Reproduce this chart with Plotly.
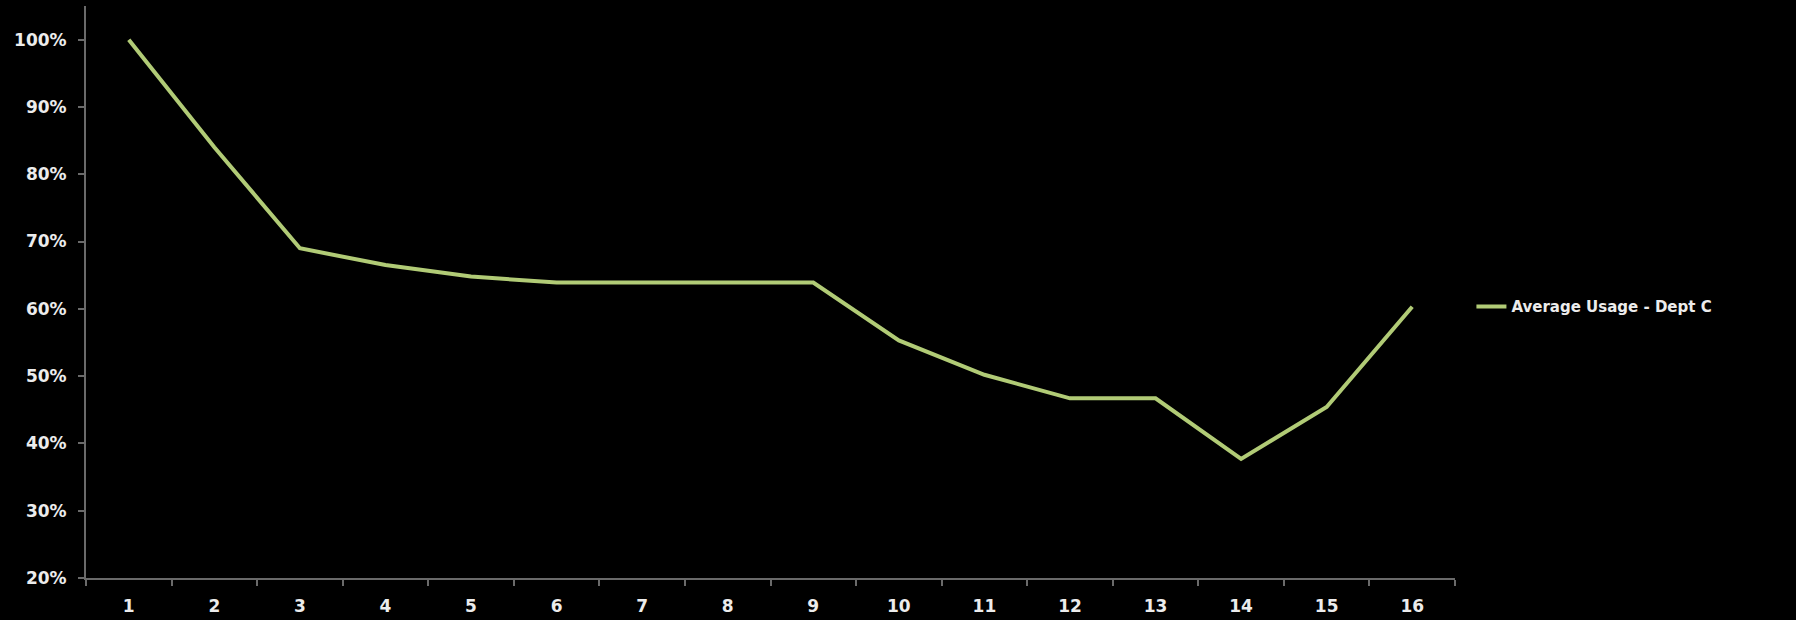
import plotly.graph_objects as go

# Period labels along the x axis
periods = [str(i) for i in range(1, 17)]

# Average usage per period (fraction of capacity)
avg_usage_dept_c = [1.00, 0.84, 0.69, 0.665, 0.648, 0.639, 0.639, 0.639, 0.639,
                    0.553, 0.502, 0.467, 0.467, 0.377, 0.454, 0.603]

series_name = "Average Usage - Dept C"

LINE_COLOR = "#b1cb76"
AXIS_COLOR = "#6a6a6a"
TEXT_COLOR = "#ececec"
FONT = "DejaVu Sans"

fig = go.Figure()
fig.add_trace(go.Scatter(
    x=periods,
    y=avg_usage_dept_c,
    mode="lines",
    name=series_name,
    line=dict(color=LINE_COLOR, width=4),
    showlegend=True,
))

fig.update_layout(
    width=1796,
    height=620,
    paper_bgcolor="#000000",
    plot_bgcolor="#000000",
    margin=dict(l=86, r=341, t=6, b=42),
    font=dict(family=FONT, color=TEXT_COLOR, size=15, weight="bold"),
    showlegend=True,
    legend=dict(
        x=1.012, y=0.474, xanchor="left", yanchor="middle",
        bgcolor="rgba(0,0,0,0)",
        font=dict(family=FONT, size=15, color=TEXT_COLOR, weight="bold"),
        itemwidth=30,
    ),
    xaxis=dict(
        type="category",
        range=[-0.5, 15.5],
        tickson="boundaries",
        ticks="outside",
        ticklen=6,
        tickcolor=AXIS_COLOR,
        tickwidth=1.5,
        showline=True,
        linecolor=AXIS_COLOR,
        linewidth=2,
        showgrid=False,
        zeroline=False,
        automargin=False,
        tickfont=dict(family=FONT, size=17, color=TEXT_COLOR, weight="bold"),
        ticklabelstandoff=12,
    ),
    yaxis=dict(
        range=[0.2, 1.05],
        tick0=0.2,
        dtick=0.1,
        tickformat=".0%",
        ticks="outside",
        ticklen=6,
        tickcolor=AXIS_COLOR,
        tickwidth=1.5,
        showline=True,
        linecolor=AXIS_COLOR,
        linewidth=2,
        showgrid=False,
        zeroline=False,
        automargin=False,
        tickfont=dict(family=FONT, size=17, color=TEXT_COLOR, weight="bold"),
        ticklabelstandoff=8,
    ),
)

fig.write_html("out.html")
